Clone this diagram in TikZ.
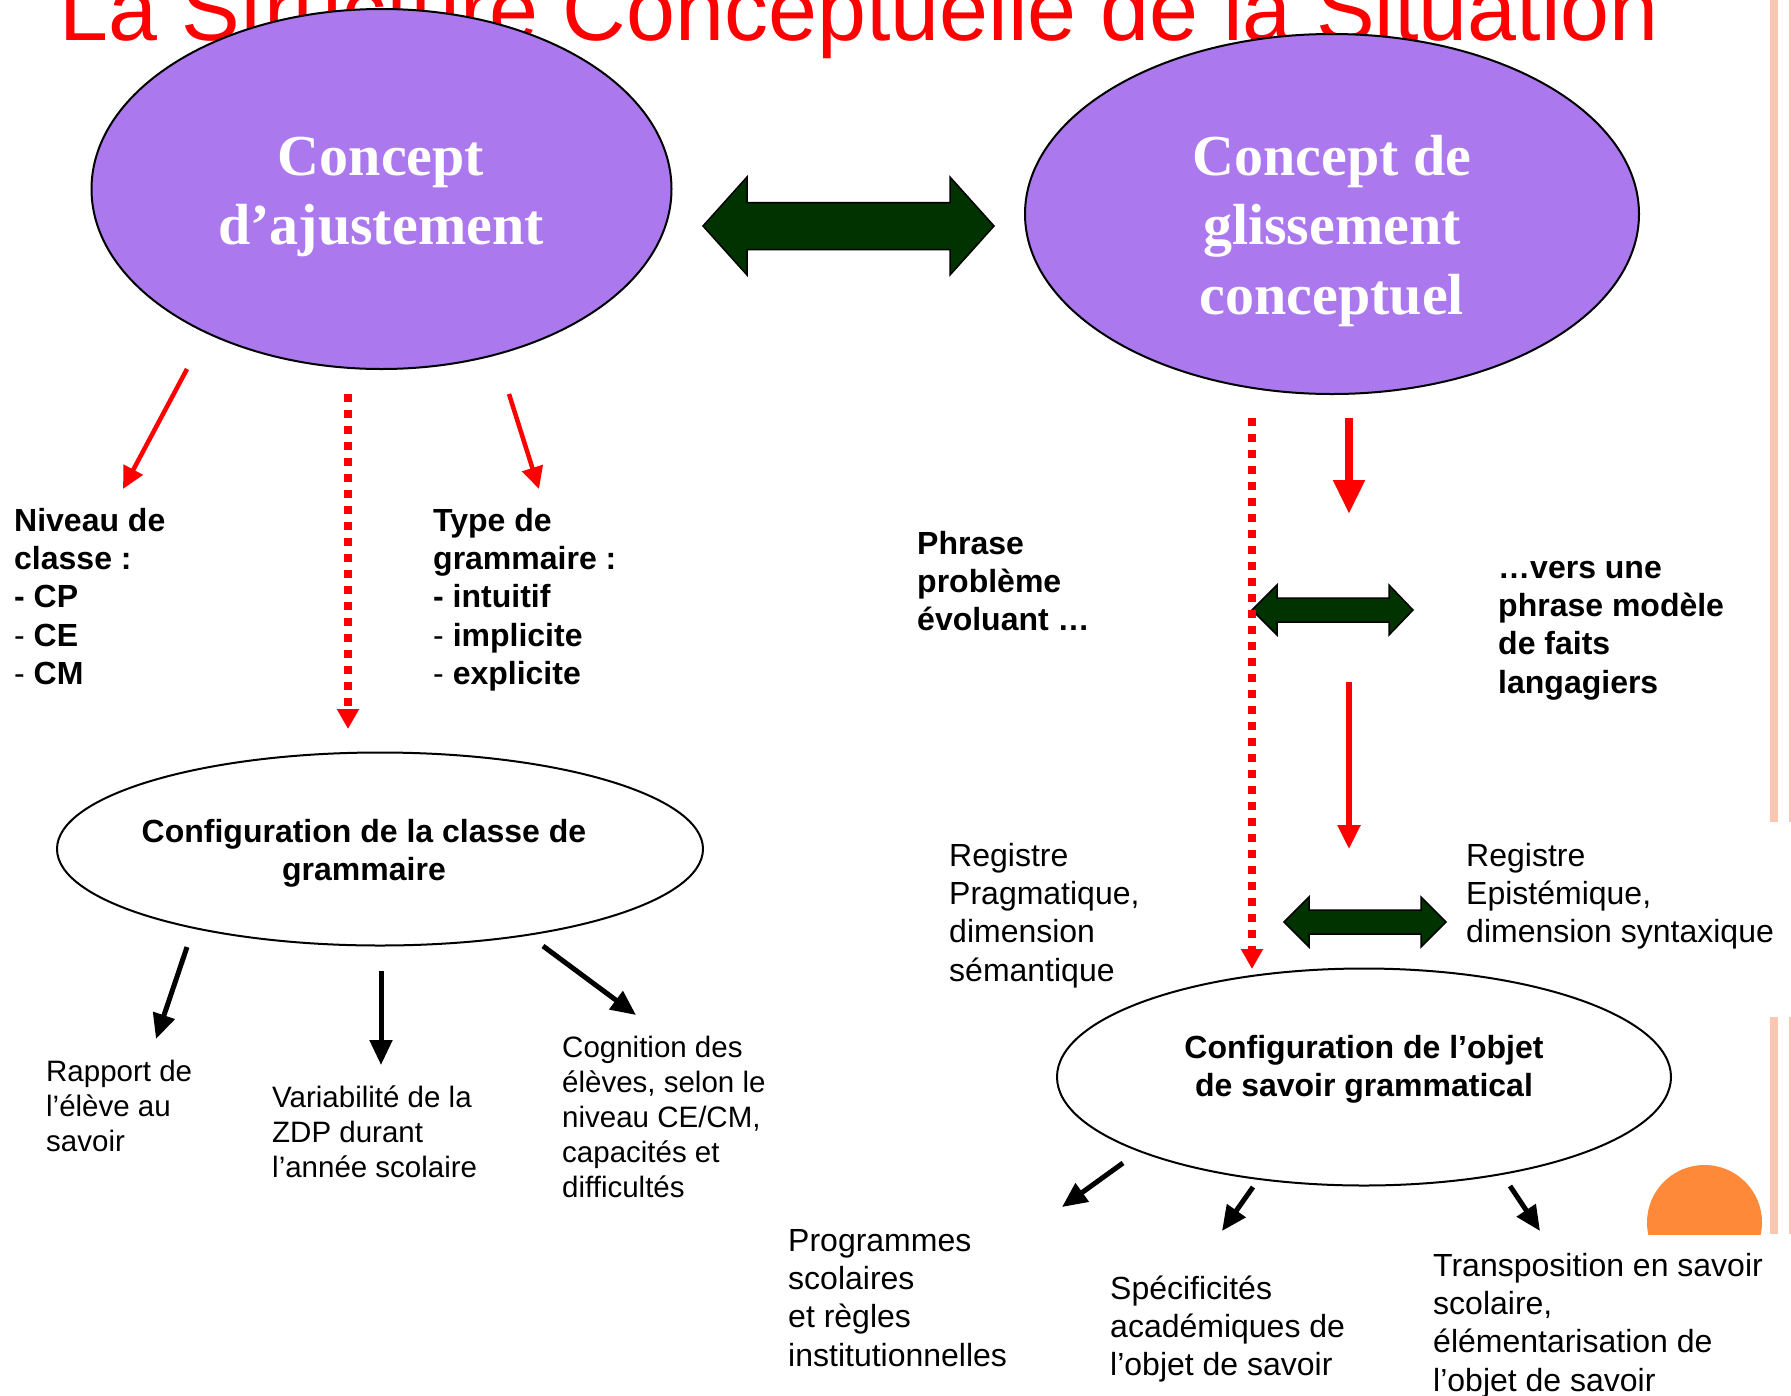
\documentclass[tikz,border=0pt]{standalone}
\usepackage{fontspec}
\setmainfont{Liberation Sans}
\newfontfamily\tnr{Liberation Serif}
\usetikzlibrary{arrows.meta,shapes.geometric}
\definecolor{conceptpurple}{RGB}{171,120,237}
\definecolor{arrowgreen}{RGB}{0,51,0}
\definecolor{barpink}{RGB}{252,198,176}
\definecolor{sunorange}{RGB}{253,137,57}
\newcommand\ml[2]{\begin{tabular}[t]{@{}#1@{}}#2\end{tabular}}
\tikzset{
  concept/.style={ellipse, draw=black, line width=2pt, fill=conceptpurple, inner sep=0pt},
  config/.style={ellipse, draw=black, line width=2pt, fill=white, inner sep=0pt},
  concepttext/.style={anchor=base, inner sep=0pt, text=white, font=\tnr\bfseries\fontsize{58}{69.5}\selectfont},
  boldtext/.style={anchor=base west, inner sep=0pt, font=\bfseries\fontsize{32}{38.4}\selectfont},
  boldctext/.style={anchor=base, inner sep=0pt, font=\bfseries\fontsize{32}{38.4}\selectfont},
  plaintext/.style={anchor=base west, inner sep=0pt, font=\fontsize{32}{38.4}\selectfont},
  smalltext/.style={anchor=base west, inner sep=0pt, font=\fontsize{29.5}{35}\selectfont},
  redarrow/.style={draw=red, line width=4.5pt, -{Triangle[length=22pt,width=21pt]}},
  reddots/.style={draw=red, line width=7.5pt, dash pattern=on 7.5pt off 8.5pt, -{Triangle[length=20pt,width=21pt]}},
  blackarrow/.style={draw=black, line width=5pt, -{Triangle[length=25pt,width=22pt]}},
  blockarrow/.style={draw=black, line width=1.5pt, fill=arrowgreen, line join=miter}
}
\begin{document}
\begin{tikzpicture}[x=1pt,y=-1pt]
\useasboundingbox (0,0) rectangle (1791,1395);
\fill[white] (0,0) rectangle (1791,1395);

% right decoration
\fill[barpink] (1770,0) rectangle (1778,822);
\fill[barpink] (1770,1017) rectangle (1778,1234);
\fill[barpink] (1789,0) rectangle (1791,822);
\fill[barpink] (1789,1017) rectangle (1791,1234);
\begin{scope}
  \clip (1600,1100) rectangle (1769,1234);
  \fill[sunorange] (1704.5,1222.5) circle[radius=57.5];
\end{scope}

% title
\node[anchor=base west, inner sep=0pt, text=red, font=\fontsize{88}{100}\selectfont] (title) at (59,40) {La Structure Conceptuelle de la Situation};

% concept ellipses
\node[concept, minimum width=580pt, minimum height=360pt] (e1) at (381.5,189) {};
\node[concept, minimum width=614pt, minimum height=360pt] (e2) at (1332,214) {};
\node[concepttext] (e1t) at (381,175) {\ml{c}{Concept\\d’ajustement}};
\node[concepttext] (e2t) at (1332,175) {\ml{c}{Concept de\\glissement\\conceptuel}};

% configuration ellipses
\node[config, minimum width=646pt, minimum height=193pt] (e3) at (380,849) {};
\node[config, minimum width=614pt, minimum height=217pt] (e4) at (1364,1077) {};
\node[boldctext] (e3t) at (364,842) {\ml{c}{Configuration de la classe de\\grammaire}};
\node[boldctext] (e4t) at (1364,1058) {\ml{c}{Configuration de l’objet\\de savoir grammatical}};

% block double arrows
\draw[blockarrow] (703,226) -- (747,177) -- (747,202.5) -- (950,202.5) -- (950,177) -- (994,226)
  -- (950,275) -- (950,249.5) -- (747,249.5) -- (747,275) -- cycle;
\draw[blockarrow] (1252,610) -- (1277,585) -- (1277,598) -- (1389,598) -- (1389,585) -- (1413,610)
  -- (1389,635) -- (1389,622) -- (1277,622) -- (1277,635) -- cycle;
\draw[blockarrow] (1284,922) -- (1309,897) -- (1309,910) -- (1421,910) -- (1421,897) -- (1446,922)
  -- (1421,947) -- (1421,934) -- (1309,934) -- (1309,947) -- cycle;

% bold texts
\node[boldtext] (niveau) at (14,531) {\ml{l}{Niveau de\\classe :\\- CP\\{\mdseries -} CE\\{\mdseries -} CM}};
\node[boldtext] (type) at (433,531) {\ml{l}{Type de\\grammaire :\\- intuitif\\{\mdseries -} implicite\\{\mdseries -} explicite}};
\node[boldtext] (phrase) at (917,554) {\ml{l}{Phrase\\problème\\évoluant …}};
\node[boldtext] (vers) at (1498,578) {\ml{l}{…vers une\\phrase modèle\\de faits\\langagiers}};

% plain texts right
\node[plaintext] (regp) at (949,866) {\ml{l}{Registre\\Pragmatique,\\dimension\\sémantique}};
\node[plaintext] (rege) at (1466,866) {\ml{l}{Registre\\Epistémique,\\dimension syntaxique}};
\node[plaintext] (prog) at (788,1251) {\ml{l}{Programmes\\scolaires\\et règles\\institutionnelles}};
\node[plaintext] (spec) at (1110,1299) {\ml{l}{Spécificités\\académiques de\\l’objet de savoir}};
\node[plaintext] (trans) at (1433,1276) {\ml{l}{Transposition en savoir\\scolaire,\\élémentarisation de\\l’objet de savoir}};

% small texts left
\node[smalltext] (rapport) at (46,1081) {\ml{l}{Rapport de\\l’élève au\\savoir}};
\node[smalltext] (variab) at (272,1107) {\ml{l}{Variabilité de la\\ZDP durant\\l’année scolaire}};
\node[smalltext] (cogn) at (562,1057) {\ml{l}{Cognition des\\élèves, selon le\\niveau CE/CM,\\capacités et\\difficultés}};

% connector end points
\coordinate (r1a) at (187,369);  \coordinate (r1b) at (123,489);
\coordinate (r2a) at (348,394);  \coordinate (r2b) at (348,729);
\coordinate (r3a) at (509,394);  \coordinate (r3b) at (539,489);
\coordinate (r4a) at (1349,418); \coordinate (r4b) at (1349,514);
\coordinate (r5a) at (1252,418); \coordinate (r5b) at (1252,969);
\coordinate (r6a) at (1349,682); \coordinate (r6b) at (1349,849);
\coordinate (b1a) at (187,947);  \coordinate (b1b) at (156,1039);
\coordinate (b2a) at (381,971);  \coordinate (b2b) at (381,1065);
\coordinate (b3a) at (543,946);  \coordinate (b3b) at (636,1015);
\coordinate (b4a) at (1123,1163); \coordinate (b4b) at (1062,1207);
\coordinate (b5a) at (1253,1187); \coordinate (b5b) at (1222,1231);
\coordinate (b6a) at (1510,1186); \coordinate (b6b) at (1540,1231);

% red connectors
\draw[redarrow] (r1a) -- (r1b);
\draw[reddots] (r2a) -- (r2b);
\draw[redarrow] (r3a) -- (r3b);
\draw[draw=red, line width=8pt, -{Triangle[length=34pt,width=30pt]}] (r4a) -- (r4b);
\draw[reddots] (r5a) -- (r5b);
\draw[draw=red, line width=5.5pt, -{Triangle[length=24pt,width=22pt]}] (r6a) -- (r6b);

% black connectors
\draw[blackarrow] (b1a) -- (b1b);
\draw[blackarrow] (b2a) -- (b2b);
\draw[blackarrow] (b3a) -- (b3b);
\draw[blackarrow] (b4a) -- (b4b);
\draw[blackarrow] (b5a) -- (b5b);
\draw[blackarrow] (b6a) -- (b6b);
\end{tikzpicture}
\end{document}
